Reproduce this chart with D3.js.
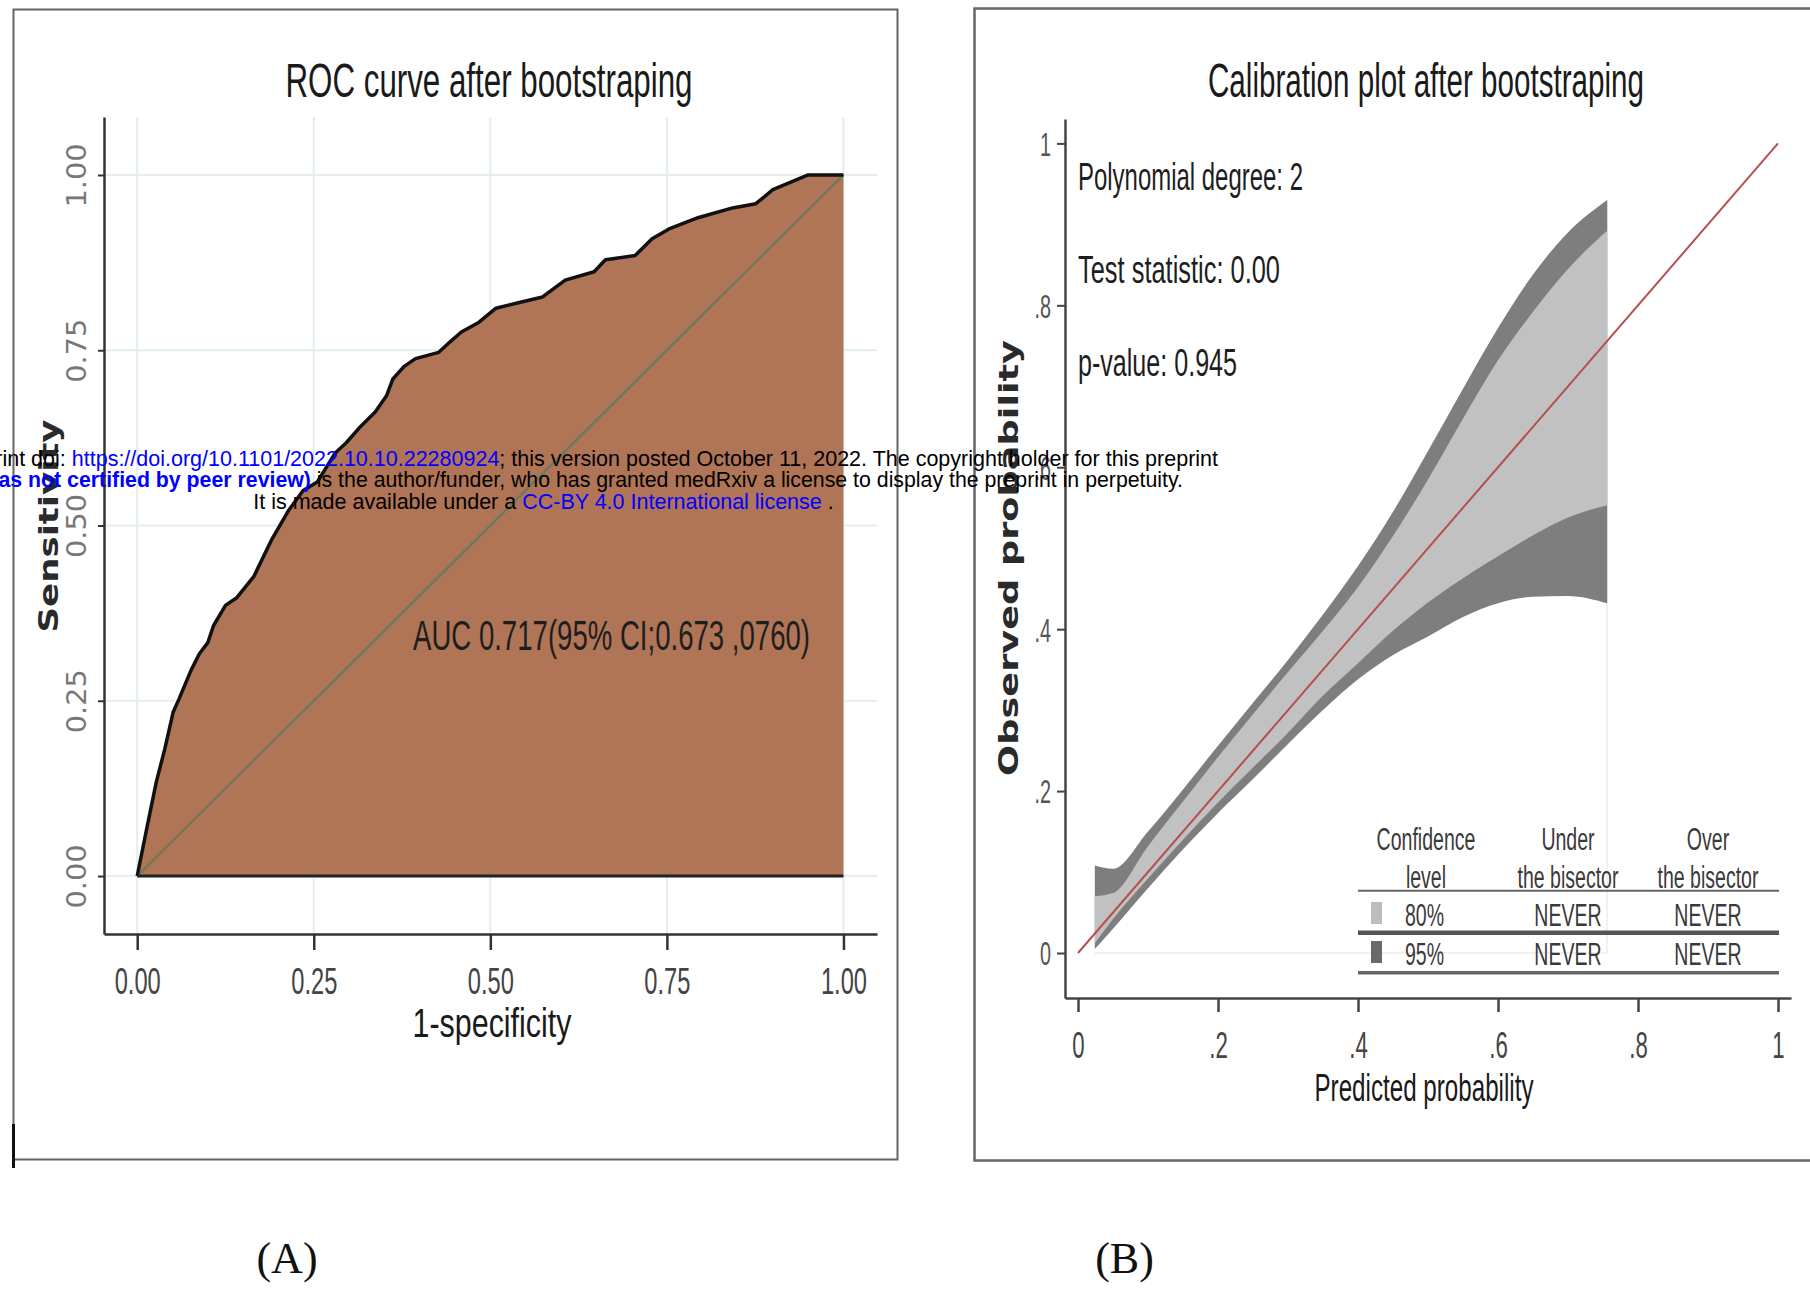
<!DOCTYPE html>
<html>
<head>
<meta charset="utf-8">
<script src="https://cdn.jsdelivr.net/npm/d3@7"></script>
<style>
    body { margin: 0; background: #fff; }
    svg { display: block; }
</style>
</head>
<body>
<script>
// ---- panel A : ROC curve ----
const rocFpr = [0, .014, .027, .039, .051, .059, .076, .088, .100, .108, .125, .141, .165, .190, .214, .235,
    .255, .280, .296, .316, .337, .353, .362, .378, .394, .427, .443, .459, .484, .508, .541, .574,
    .606, .647, .663, .705, .729, .753, .794, .843, .876, .900, .950, 1.0]
const rocTpr = [0, .070, .134, .181, .234, .252, .293, .317, .333, .357, .386, .397, .427, .479, .521, .550,
    .562, .603, .618, .641, .662, .685, .709, .727, .738, .747, .762, .776, .790, .810, .818, .826,
    .850, .862, .879, .885, .909, .923, .939, .953, .959, .979, 1.0, 1.0]
const rocTicks = [0, 0.25, 0.5, 0.75, 1]
const rocTickLabels = ["0.00", "0.25", "0.50", "0.75", "1.00"]
const aucLabel = "AUC 0.717(95% CI;0.673 ,0760)"

// ---- panel B : calibration belt ----
const calX    = [.024, .05, .10, .15, .20, .25, .30, .35, .40, .45, .50, .55, .60, .65, .70, .756]
const calUp95 = [.108, .104, .150, .202, .256, .309, .362, .418, .478, .545, .620, .697, .772, .838, .890, .930]
const calUp80 = [.070, .074, .132, .187, .242, .295, .347, .398, .452, .515, .585, .660, .732, .792, .845, .892]
const calLo80 = [.012, .042, .092, .140, .186, .229, .272, .318, .358, .398, .433, .463, .490, .516, .538, .553]
const calLo95 = [.005, .030, .080, .128, .173, .215, .258, .300, .338, .368, .391, .415, .432, .440, .441, .432]
const calTicks = [0, .2, .4, .6, .8, 1]
const calTickLabels = ["0", ".2", ".4", ".6", ".8", "1"]
const calStats = ["Polynomial degree: 2", "Test statistic: 0.00", "p-value: 0.945"]
const legendHeads = [["Confidence", "level"], ["Under", "the bisector"], ["Over", "the bisector"]]
const legendLevels = ["80%", "95%"]
const legendUnder = ["NEVER", "NEVER"]
const legendOver = ["NEVER", "NEVER"]

const SANS = "'Liberation Sans', Arial, sans-serif"
const WIDE = "'DejaVu Sans', Verdana, sans-serif"

// squeeze text like the narrow Stata font
function condense(sel, ratio) {
    sel.each(function() {
        let w = this.getComputedTextLength()
        d3.select(this).attr("textLength", w * ratio).attr("lengthAdjust", "spacingAndGlyphs")
    })
}
function fit(sel, width) {
    sel.attr("textLength", width).attr("lengthAdjust", "spacingAndGlyphs")
}

const svg = d3.select("body").append("svg")
    .attr("width", 1810).attr("height", 1292)
svg.append("rect").attr("width", 1810).attr("height", 1292).attr("fill", "#fff")

// ================= panel A =================
let A = svg.append("g")

// frame
A.append("path").attr("d", "M13.5,1124 V9.5 H897.5 V1159.5 H14")
    .attr("fill", "none").attr("stroke", "#666").attr("stroke-width", 2)
A.append("line").attr("x1", 13.5).attr("x2", 13.5).attr("y1", 1124).attr("y2", 1168)
    .attr("stroke", "#111").attr("stroke-width", 3)

let rx = d3.scaleLinear().domain([-0.047, 1.0475]).range([104, 877])
let ry = d3.scaleLinear().domain([-0.0827, 1.0827]).range([934, 117])

// grid
A.selectAll(".vgrid").data(rocTicks).join("line")
    .attr("x1", d => rx(d)).attr("x2", d => rx(d)).attr("y1", 117).attr("y2", 934)
    .attr("stroke", "#e2eef0").attr("stroke-width", 2)
A.selectAll(".hgrid").data(rocTicks).join("line")
    .attr("y1", d => ry(d)).attr("y2", d => ry(d)).attr("x1", 104).attr("x2", 877)
    .attr("stroke", "#e2eef0").attr("stroke-width", 2)

let rocPts = rocFpr.map((f, i) => [f, rocTpr[i]])
A.append("path").datum(rocPts)
    .attr("d", d3.area().x(d => rx(d[0])).y0(ry(0)).y1(d => ry(d[1])))
    .attr("fill", "#b07457")
A.append("line").attr("x1", rx(0)).attr("x2", rx(1)).attr("y1", ry(0)).attr("y2", ry(1))
    .attr("stroke", "#6f7a5c").attr("stroke-width", 2.5)
A.append("path").datum(rocPts)
    .attr("d", d3.line().x(d => rx(d[0])).y(d => ry(d[1])))
    .attr("fill", "none").attr("stroke", "#111").attr("stroke-width", 3.5).attr("stroke-linejoin", "round")
A.append("line").attr("x1", rx(0)).attr("x2", rx(1)).attr("y1", ry(0)).attr("y2", ry(0))
    .attr("stroke", "#222").attr("stroke-width", 3)

// axes
let axA = A.append("g").attr("transform", "translate(0,934)")
    .call(d3.axisBottom(rx).tickValues(rocTicks).tickFormat((d, i) => rocTickLabels[i]).tickSize(16).tickSizeOuter(0))
axA.select(".domain").attr("stroke", "#333").attr("stroke-width", 2.5)
axA.selectAll(".tick line").attr("stroke", "#333").attr("stroke-width", 2.5)
axA.selectAll("text").attr("y", 60).attr("dy", 0)
    .attr("font-family", SANS).attr("font-size", 37).attr("fill", "#444")
condense(axA.selectAll("text"), 0.64)

let ayA = A.append("g").attr("transform", "translate(104,0)")
    .call(d3.axisLeft(ry).tickValues(rocTicks).tickFormat((d, i) => rocTickLabels[i]).tickSize(6).tickSizeOuter(0))
ayA.select(".domain").attr("stroke", "#333").attr("stroke-width", 2.5)
ayA.selectAll(".tick line").attr("stroke", "#333").attr("stroke-width", 2)
ayA.selectAll("text").attr("x", 0).attr("dy", 0)
    .attr("transform", "translate(-18,0) rotate(-90)").attr("text-anchor", "middle")
    .attr("font-family", WIDE).attr("font-size", 27).attr("fill", "#777")
fit(ayA.selectAll("text"), 64)

A.append("text").text("ROC curve after bootstraping")
    .attr("x", 489).attr("y", 97).attr("text-anchor", "middle")
    .attr("font-family", SANS).attr("font-size", 48).attr("fill", "#1a1a1a")
    .call(fit, 407)
A.append("text").text("1-specificity")
    .attr("x", 492).attr("y", 1037).attr("text-anchor", "middle")
    .attr("font-family", SANS).attr("font-size", 40).attr("fill", "#1a1a1a")
    .call(fit, 159)
A.append("text").text("Sensitivity")
    .attr("transform", "translate(58,526) rotate(-90)").attr("text-anchor", "middle")
    .attr("font-family", WIDE).attr("font-weight", "bold").attr("font-size", 27).attr("fill", "#2a2a2a")
    .call(fit, 213)
A.append("text").text(aucLabel)
    .attr("x", 413).attr("y", 650)
    .attr("font-family", SANS).attr("font-size", 42).attr("fill", "#1e1e1e")
    .call(fit, 397)

// ================= panel B =================
let B = svg.append("g")
B.append("path").attr("d", "M1810,8.5 H974.5 V1160.5 H1810")
    .attr("fill", "none").attr("stroke", "#666").attr("stroke-width", 2.5)

let cx = d3.scaleLinear().domain([-13 / 700, 1 + 13 / 700]).range([1065, 1791])
let cy = d3.scaleLinear().domain([-45 / 809.6, 834 / 809.6]).range([998, 119])

let last = calX.length - 1
B.append("line").attr("x1", cx(calX[0])).attr("x2", cx(calX[last])).attr("y1", cy(0)).attr("y2", cy(0))
    .attr("stroke", "#f0f0f0").attr("stroke-width", 2)
B.append("line").attr("x1", cx(calX[last])).attr("x2", cx(calX[last])).attr("y1", cy(calUp95[last])).attr("y2", cy(0))
    .attr("stroke", "#f0f0f0").attr("stroke-width", 2)

function belt(lo, hi) {
    return d3.area()
        .x((d, i) => cx(calX[i]))
        .y0((d, i) => cy(lo[i]))
        .y1((d, i) => cy(hi[i]))
        .curve(d3.curveMonotoneX)
}
B.append("path").datum(calX).attr("d", belt(calLo95, calUp95)).attr("fill", "#7e7e7e")
B.append("path").datum(calX).attr("d", belt(calLo80, calUp80)).attr("fill", "#c1c1c1")
B.append("line").attr("x1", cx(0)).attr("y1", cy(0)).attr("x2", cx(1)).attr("y2", cy(1))
    .attr("stroke", "#b4504f").attr("stroke-width", 2)

let axB = B.append("g").attr("transform", "translate(0,998)")
    .call(d3.axisBottom(cx).tickValues(calTicks).tickFormat((d, i) => calTickLabels[i]).tickSize(14).tickSizeOuter(0))
axB.select(".domain").attr("stroke", "#444").attr("stroke-width", 2.5)
axB.selectAll(".tick line").attr("stroke", "#444").attr("stroke-width", 2.5)
axB.selectAll("text").attr("y", 60).attr("dy", 0)
    .attr("font-family", SANS).attr("font-size", 37).attr("fill", "#444")
condense(axB.selectAll("text"), 0.6)

let ayB = B.append("g").attr("transform", "translate(1065,0)")
    .call(d3.axisLeft(cy).tickValues(calTicks).tickFormat((d, i) => calTickLabels[i]).tickSize(8).tickSizeOuter(0))
ayB.select(".domain").attr("stroke", "#444").attr("stroke-width", 2.5)
ayB.selectAll(".tick line").attr("stroke", "#444").attr("stroke-width", 2)
ayB.selectAll("text").attr("x", -14).attr("dy", "0.36em")
    .attr("font-family", SANS).attr("font-size", 33).attr("fill", "#555")
condense(ayB.selectAll("text"), 0.6)

B.append("text").text("Calibration plot after bootstraping")
    .attr("x", 1426).attr("y", 97).attr("text-anchor", "middle")
    .attr("font-family", SANS).attr("font-size", 48).attr("fill", "#1a1a1a")
    .call(fit, 436)
B.append("text").text("Predicted probability")
    .attr("x", 1424).attr("y", 1101).attr("text-anchor", "middle")
    .attr("font-family", SANS).attr("font-size", 38).attr("fill", "#1a1a1a")
    .call(fit, 219)
B.append("text").text("Observed probability")
    .attr("transform", "translate(1018,558) rotate(-90)").attr("text-anchor", "middle")
    .attr("font-family", WIDE).attr("font-weight", "bold").attr("font-size", 27).attr("fill", "#2a2a2a")
    .call(fit, 436)

// statistics
let statW = [225, 202, 159]
B.selectAll(".stat").data(calStats).join("text")
    .attr("x", 1078).attr("y", (d, i) => 190 + i * 93)
    .attr("font-family", SANS).attr("font-size", 39).attr("fill", "#1e1e1e")
    .text(d => d)
    .each(function(d, i) { d3.select(this).call(fit, statW[i]) })

// legend table
let colX = [1426, 1568, 1708]
let lg = B.append("g").attr("font-family", SANS).attr("font-size", 31).attr("fill", "#3a3a3a")
legendHeads.forEach(function(h, j) {
    h.forEach(function(t, k) {
        lg.append("text").text(t).attr("x", colX[j]).attr("y", 850 + k * 38).attr("text-anchor", "middle")
    })
})
let rowY = [926, 965]
let swatch = ["#bdbdbd", "#6a6a6a"]
legendLevels.forEach(function(lv, r) {
    lg.append("rect").attr("x", 1371).attr("y", rowY[r] - 24).attr("width", 11).attr("height", 22).attr("fill", swatch[r])
    lg.append("text").text(lv).attr("x", 1405).attr("y", rowY[r])
    lg.append("text").text(legendUnder[r]).attr("x", colX[1]).attr("y", rowY[r]).attr("text-anchor", "middle")
    lg.append("text").text(legendOver[r]).attr("x", colX[2]).attr("y", rowY[r]).attr("text-anchor", "middle")
})
condense(lg.selectAll("text"), 0.63)
let rules = [[890.7, 2, "#666"], [932.7, 4.5, "#555"], [972.7, 3.5, "#666"]]
rules.forEach(function(r) {
    lg.append("line").attr("x1", 1358).attr("x2", 1779).attr("y1", r[0]).attr("y2", r[0])
        .attr("stroke", r[2]).attr("stroke-width", r[1])
})

// panel letters
svg.append("text").text("(A)").attr("x", 287).attr("y", 1273).attr("text-anchor", "middle")
    .attr("font-family", "'Liberation Serif', 'Times New Roman', serif").attr("font-size", 44).attr("fill", "#111")
svg.append("text").text("(B)").attr("x", 1124.5).attr("y", 1273).attr("text-anchor", "middle")
    .attr("font-family", "'Liberation Serif', 'Times New Roman', serif").attr("font-size", 44).attr("fill", "#111")

// medRxiv stamp that sits over the figure
let stamp = svg.append("g").attr("font-family", SANS).attr("font-size", 21.5).attr("fill", "#000")
let l1 = stamp.append("text").attr("x", 1218).attr("y", 466).attr("text-anchor", "end")
l1.append("tspan").text("medRxiv preprint doi: ")
l1.append("tspan").attr("fill", "#0000ff").text("https://doi.org/10.1101/2022.10.10.22280924")
l1.append("tspan").text("; this version posted October 11, 2022. The copyright holder for this preprint")
let l2 = stamp.append("text").attr("x", 1183).attr("y", 487).attr("text-anchor", "end").attr("font-size", 21.3)
l2.append("tspan").attr("fill", "#0000ff").attr("font-weight", "bold").text("(which was not certified by peer review)")
l2.append("tspan").text(" is the author/funder, who has granted medRxiv a license to display the preprint in perpetuity.")
let l3 = stamp.append("text").attr("x", 543.5).attr("y", 508.5).attr("text-anchor", "middle")
l3.append("tspan").text("It is made available under a ")
l3.append("tspan").attr("fill", "#0000ff").text("CC-BY 4.0 International license")
l3.append("tspan").text(" .")
</script>
</body>
</html>
